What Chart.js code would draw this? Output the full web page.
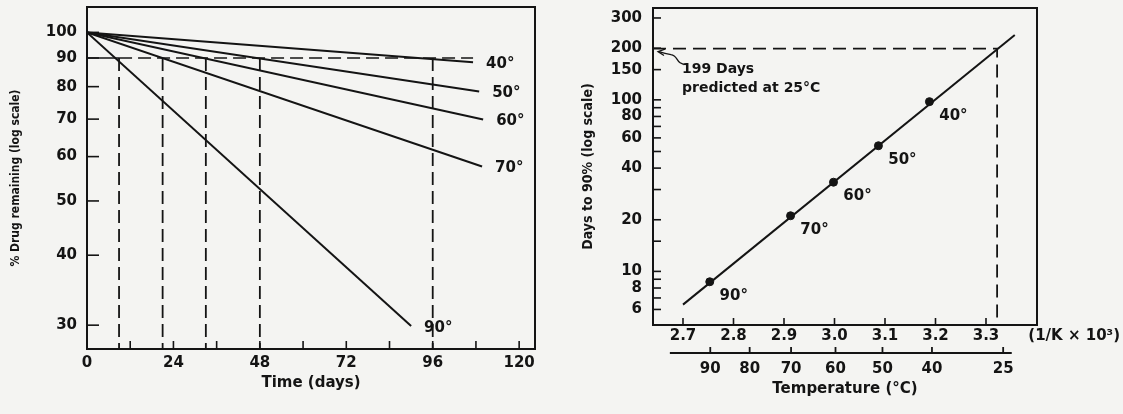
<!DOCTYPE html>
<html>
<head>
<meta charset="utf-8">
<script src="https://cdn.jsdelivr.net/npm/chart.js@4.4.1/dist/chart.umd.min.js"></script>
<style>
  html, body { margin: 0; padding: 0; background: #f4f4f2; }
  #wrap { position: relative; width: 1123px; height: 414px; }
  .panel { position: absolute; top: 0; height: 414px; }
  #left { left: 0; width: 560px; }
  #right { left: 560px; width: 563px; }
</style>
</head>
<body>
<div id="wrap">
  <div class="panel" id="left"><canvas id="decay"></canvas></div>
  <div class="panel" id="right"><canvas id="arrhenius"></canvas></div>
</div>
<script>
// left panel: % drug remaining against time, one line per temperature
const tempLabels = ["40°", "50°", "60°", "70°", "90°"];
const endDays = [107.2, 108.9, 110.0, 109.7, 90.0];
const endRemaining = [88.4, 78.4, 69.9, 57.6, 29.9];
const t90Days = [96, 48, 33, 21, 8.9];
const dayTicks = [0, 12, 24, 36, 48, 60, 72, 84, 96, 108, 120];
const remainingTicks = [30, 40, 50, 60, 70, 80, 90, 100];

// right panel: days to 90% against 1/T
const pointTemps = ["90°", "70°", "60°", "50°", "40°"];
const invKelvin = [2.753, 2.913, 2.998, 3.087, 3.188];
const daysTo90 = [8.7, 21.1, 33.1, 54.0, 97.6];
const fitInvK = [2.70, 3.357];
const fitDays = [6.4, 239];
const predictedInvK = 3.322;
const predictedDays = 199;
const invKTicks = [2.7, 2.8, 2.9, 3.0, 3.1, 3.2, 3.3];
const daysTicks = [6, 7, 8, 9, 10, 15, 20, 30, 40, 50, 60, 70, 80, 90, 100, 150, 200, 300];
const daysLabelled = [6, 8, 10, 20, 40, 60, 80, 100, 150, 200, 300];
const celsiusLabels = ["90", "80", "70", "60", "50", "40", "25"];
const celsiusAtInvK = [2.754, 2.832, 2.914, 3.002, 3.095, 3.193, 3.334];

const INK = "#141414";
const tickFont = { family: "'DejaVu Sans', sans-serif", size: 15, weight: "bold" };
const condensed = "'Liberation Sans Narrow', 'DejaVu Sans Condensed', sans-serif";

Chart.defaults.color = INK;
Chart.defaults.font = tickFont;

function fixedTicks(values) {
    return (axis) => { axis.ticks = values.map(v => ({ value: v })); };
}

// fixed axis size, and no extra room for half labels at the ends
function fixedSize(size) {
    return (axis) => {
        if (axis.isHorizontal()) axis.height = size;
        else axis.width = size;
        axis.paddingTop = axis.paddingBottom = axis.paddingLeft = axis.paddingRight = 0;
    };
}

// box round the plot area plus short ticks pointing inwards
const framePlugin = {
    id: "frame",
    afterDatasetsDraw(chart, args, opts) {
        const { ctx, chartArea: a } = chart;
        ctx.save();
        ctx.strokeStyle = INK;
        ctx.lineWidth = 2;
        ctx.strokeRect(a.left, a.top, a.right - a.left, a.bottom - a.top);
        ctx.lineWidth = 1.6;
        (opts.inner || []).forEach(({ axis, len }) => {
            const s = chart.scales[axis];
            s.ticks.forEach(t => {
                const p = s.getPixelForValue(t.value);
                ctx.beginPath();
                if (s.isHorizontal()) {
                    ctx.moveTo(p, a.bottom);
                    ctx.lineTo(p, a.bottom - len);
                } else {
                    ctx.moveTo(a.left, p);
                    ctx.lineTo(a.left + len, p);
                }
                ctx.stroke();
            });
        });
        ctx.restore();
    }
};

const lineLabels = {
    id: "lineLabels",
    afterDatasetsDraw(chart) {
        const ctx = chart.ctx;
        ctx.save();
        ctx.font = "bold 15px 'DejaVu Sans'";
        ctx.fillStyle = INK;
        ctx.textBaseline = "middle";
        ctx.textAlign = "left";
        tempLabels.forEach((txt, i) => {
            const pts = chart.getDatasetMeta(i).data;
            const end = pts[pts.length - 1];
            ctx.fillText(txt, end.x + 13, end.y + 2);
        });
        ctx.restore();
    }
};

const yMinLeft = 27.2;

new Chart(document.getElementById("decay"), {
    type: "scatter",
    data: {
        datasets: [
            ...tempLabels.map((t, i) => ({
                label: t,
                data: [{ x: 0, y: 100 }, { x: endDays[i], y: endRemaining[i] }],
                showLine: true,
                borderColor: INK,
                borderWidth: 2,
                pointRadius: 0,
            })),
            {
                label: "90% level",
                data: [{ x: 0, y: 90 }, { x: t90Days[4], y: 90 }, { x: endDays[0], y: 90 }],
                showLine: true,
                borderColor: INK,
                borderWidth: 1.6,
                pointRadius: 0,
                segment: { borderDash: c => c.p0DataIndex === 0 ? [] : [13, 6] },
            },
            {
                label: "t90",
                data: t90Days.flatMap(t => [{ x: t, y: 90 }, { x: t, y: yMinLeft }, { x: t, y: null }]),
                showLine: true,
                spanGaps: false,
                borderColor: INK,
                borderWidth: 1.8,
                borderDash: [13, 6],
                pointRadius: 0,
            },
        ],
    },
    options: {
        animation: false,
        responsive: true,
        maintainAspectRatio: false,
        layout: { padding: { top: 7, right: 25, bottom: 22, left: 0 } },
        plugins: {
            legend: { display: false },
            tooltip: { enabled: false },
            frame: { inner: [{ axis: "x", len: 8 }, { axis: "y", len: 12 }] },
        },
        scales: {
            x: {
                type: "linear",
                min: 0,
                max: 124.4,
                afterBuildTicks: fixedTicks(dayTicks),
                afterFit: fixedSize(43),
                grid: { display: false, drawTicks: false },
                border: { display: false },
                ticks: {
                    padding: 5,
                    autoSkip: false,
                    maxRotation: 0,
                    callback: v => (v % 24 === 0 ? v : ""),
                },
                title: { display: true, text: "Time (days)", font: tickFont, padding: 0 },
            },
            y: {
                type: "logarithmic",
                min: yMinLeft,
                max: 111,
                afterBuildTicks: fixedTicks(remainingTicks),
                afterFit: fixedSize(87),
                grid: { display: false, drawTicks: false },
                border: { display: false },
                ticks: { padding: 10, autoSkip: false, callback: v => v },
                title: {
                    display: true,
                    text: "% Drug remaining (log scale)",
                    font: { family: condensed, size: 12, weight: "bold" },
                    padding: { top: 9, bottom: 0 },
                },
            },
        },
    },
    plugins: [framePlugin, lineLabels],
});

// right panel extras: point labels, note with arrow, second (°C) axis
const arrheniusExtras = {
    id: "arrheniusExtras",
    afterDatasetsDraw(chart) {
        const { ctx, scales: { x, y, x2 } } = chart;
        ctx.save();
        ctx.fillStyle = INK;
        ctx.strokeStyle = INK;
        ctx.font = "bold 15px 'DejaVu Sans'";
        ctx.textBaseline = "middle";
        ctx.textAlign = "center";
        chart.getDatasetMeta(0).data.forEach((pt, i) => {
            ctx.fillText(pointTemps[i], pt.x + 24, pt.y + 14);
        });

        // note about the extrapolated value
        const ax = x.left;
        const ay = y.getPixelForValue(predictedDays);
        ctx.font = "bold 14px 'DejaVu Sans'";
        ctx.textAlign = "left";
        ctx.fillText("199 Days", x.getPixelForValue(fitInvK[0]) - 1, ay + 21);
        ctx.fillText("predicted at 25°C", x.getPixelForValue(fitInvK[0]) - 1, ay + 40);
        ctx.lineWidth = 1.3;
        ctx.beginPath();
        ctx.moveTo(ax + 34, ay + 16);
        ctx.bezierCurveTo(ax + 22, ay + 16, ax + 26, ay + 7, ax + 18, ay + 6);
        ctx.quadraticCurveTo(ax + 12, ay + 5, ax + 6, ay + 3);
        ctx.stroke();
        ctx.beginPath();
        ctx.moveTo(ax + 12, ay + 0.5);
        ctx.lineTo(ax + 5, ay + 3);
        ctx.lineTo(ax + 11, ay + 7);
        ctx.stroke();

        // unit label for the 1/T axis
        ctx.font = "bold 15px 'DejaVu Sans'";
        ctx.textAlign = "right";
        ctx.fillText("(1/K × 10³)", chart.width - 3, x.top + 11);

        // temperature axis line with upward ticks
        const ly = x2.top + 6;
        ctx.lineWidth = 1.8;
        ctx.beginPath();
        ctx.moveTo(x2.getPixelForValue(2.674), ly);
        ctx.lineTo(x2.getPixelForValue(3.351), ly);
        ctx.stroke();
        x2.ticks.forEach(t => {
            const p = x2.getPixelForValue(t.value);
            ctx.beginPath();
            ctx.moveTo(p, ly);
            ctx.lineTo(p, ly - 6);
            ctx.stroke();
        });
        ctx.restore();
    }
};

const xMinRight = 2.6406;
const xMaxRight = 3.401;
const yMinRight = 4.87;

new Chart(document.getElementById("arrhenius"), {
    type: "scatter",
    data: {
        datasets: [
            {
                label: "measured",
                data: invKelvin.map((v, i) => ({ x: v, y: daysTo90[i] })),
                pointRadius: 4,
                pointBackgroundColor: INK,
                pointBorderColor: INK,
            },
            {
                label: "fit",
                data: fitInvK.map((v, i) => ({ x: v, y: fitDays[i] })),
                showLine: true,
                borderColor: INK,
                borderWidth: 2,
                pointRadius: 0,
            },
            {
                label: "prediction",
                data: [
                    { x: xMinRight, y: predictedDays },
                    { x: predictedInvK, y: predictedDays },
                    { x: predictedInvK, y: yMinRight },
                ],
                showLine: true,
                borderColor: INK,
                borderWidth: 1.8,
                borderDash: [13, 7],
                pointRadius: 0,
            },
        ],
    },
    options: {
        animation: false,
        responsive: true,
        maintainAspectRatio: false,
        layout: { padding: { top: 8, right: 86, bottom: 16, left: 0 } },
        plugins: {
            legend: { display: false },
            tooltip: { enabled: false },
            frame: { inner: [{ axis: "x", len: 7 }, { axis: "y", len: 8 }] },
        },
        scales: {
            x: {
                type: "linear",
                min: xMinRight,
                max: xMaxRight,
                weight: 0,
                afterBuildTicks: fixedTicks(invKTicks),
                afterFit: fixedSize(22),
                grid: { display: false, drawTicks: false },
                border: { display: false },
                ticks: { padding: 2, autoSkip: false, maxRotation: 0, callback: v => v.toFixed(1) },
            },
            x2: {
                type: "linear",
                position: "bottom",
                min: xMinRight,
                max: xMaxRight,
                weight: 1,
                afterBuildTicks: fixedTicks(celsiusAtInvK),
                afterFit: fixedSize(51),
                grid: { display: false, drawTicks: false },
                border: { display: false },
                ticks: { padding: 13, autoSkip: false, maxRotation: 0, callback: (v, i) => celsiusLabels[i] },
                title: { display: true, text: "Temperature (°C)", font: tickFont, padding: 0 },
            },
            y: {
                type: "logarithmic",
                min: yMinRight,
                max: 343,
                afterBuildTicks: fixedTicks(daysTicks),
                afterFit: fixedSize(93),
                grid: { display: false, drawTicks: false },
                border: { display: false },
                ticks: {
                    padding: 11,
                    autoSkip: false,
                    callback: v => (daysLabelled.includes(v) ? v : ""),
                },
                title: {
                    display: true,
                    text: "Days to 90% (log scale)",
                    font: { family: condensed, size: 14, weight: "bold" },
                    padding: { top: 20, bottom: 0 },
                },
            },
        },
    },
    plugins: [framePlugin, arrheniusExtras],
});
</script>
</body>
</html>
